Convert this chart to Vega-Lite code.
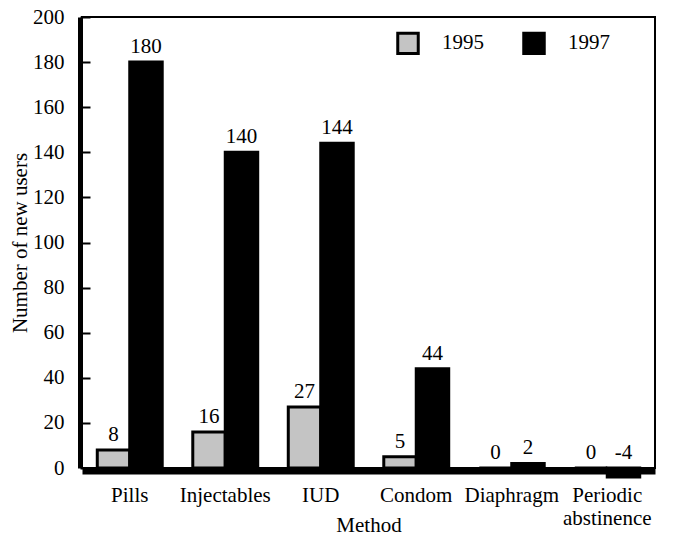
{
  "$schema": "https://vega.github.io/schema/vega-lite/v6.json",
  "width": 573,
  "height": 451,
  "autosize": {"type": "none"},
  "padding": {"left": 82, "top": 17, "right": 27, "bottom": 71},
  "background": "white",
  "config": {
    "font": "Liberation Serif",
    "view": {"stroke": "black", "strokeWidth": 2},
    "axis": {"labelFont": "Liberation Serif", "titleFont": "Liberation Serif", "labelColor": "black", "titleColor": "black", "titleFontWeight": "normal", "grid": false}
  },
  "data": {
    "values": [
      {"method": "Pills", "year": "1995", "users": 8},
      {"method": "Pills", "year": "1997", "users": 180},
      {"method": "Injectables", "year": "1995", "users": 16},
      {"method": "Injectables", "year": "1997", "users": 140},
      {"method": "IUD", "year": "1995", "users": 27},
      {"method": "IUD", "year": "1997", "users": 144},
      {"method": "Condom", "year": "1995", "users": 5},
      {"method": "Condom", "year": "1997", "users": 44},
      {"method": "Diaphragm", "year": "1995", "users": 0},
      {"method": "Diaphragm", "year": "1997", "users": 2},
      {"method": "Periodic abstinence", "year": "1995", "users": 0},
      {"method": "Periodic abstinence", "year": "1997", "users": -4}
    ]
  },
  "encoding": {
    "x": {
      "field": "method", "type": "nominal", "sort": null,
      "scale": {"paddingInner": 0.32, "paddingOuter": 0.16},
      "axis": {
        "title": "Method", "labelAngle": 0, "ticks": false,
        "domainColor": "black", "domainWidth": 6, "offset": 3,
        "labelFontSize": 21, "labelPadding": 13, "labelLineHeight": 23,
        "labelExpr": "datum.label == 'Periodic abstinence' ? ['Periodic', 'abstinence'] : datum.label",
        "titleFontSize": 21, "titleY": 54, "titleBaseline": "middle"
      }
    },
    "xOffset": {"field": "year", "type": "nominal", "scale": {"paddingInner": 0}}
  },
  "layer": [
    {
      "mark": {"type": "bar", "stroke": "black", "strokeWidth": 3},
      "encoding": {
        "y": {
          "field": "users", "type": "quantitative",
          "scale": {"domain": [0, 200], "nice": false},
          "axis": {
            "title": "Number of new users", "values": [0, 20, 40, 60, 80, 100, 120, 140, 160, 180, 200],
            "domainColor": "black", "domainWidth": 5, "offset": 2,
            "tickColor": "black", "tickWidth": 2, "tickSize": -10, "labelPadding": 26,
            "labelFontSize": 21, "titleFontSize": 21,
            "titleX": -60, "titleBaseline": "middle"
          }
        },
        "color": {
          "field": "year", "type": "nominal",
          "scale": {"domain": ["1995", "1997"], "range": ["#c4c4c4", "#000000"]},
          "legend": {
            "title": null, "orient": "none", "direction": "horizontal",
            "legendX": 314, "legendY": 14,
            "symbolType": "square", "symbolSize": 420, "symbolStrokeColor": "black", "symbolStrokeWidth": 3,
            "symbolOpacity": 1,
            "labelFontSize": 21, "labelFont": "Liberation Serif", "labelColor": "black", "labelOffset": 22,
            "columnPadding": 33
          }
        }
      }
    },
    {
      "mark": {"type": "text", "baseline": "bottom", "dy": -5, "fontSize": 21, "color": "black"},
      "encoding": {
        "y": {
          "field": "users", "type": "quantitative",
          "scale": {"domain": [0, 200], "nice": false, "clamp": true},
          "axis": null
        },
        "text": {"field": "users", "type": "nominal"}
      }
    }
  ],
  "resolve": {"scale": {"y": "independent"}}
}
